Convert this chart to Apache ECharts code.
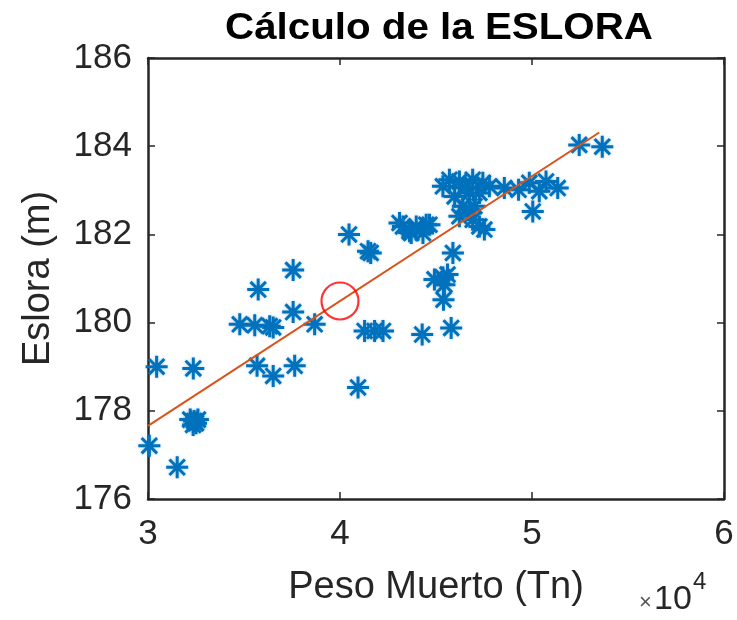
<!DOCTYPE html>
<html>
<head>
<meta charset="utf-8">
<script src="https://cdn.jsdelivr.net/npm/echarts@6/dist/echarts.min.js"></script>
<style>
html,body{margin:0;padding:0;background:#fff;}
#chart{width:737px;height:620px;}
</style>
</head>
<body>
<div id="chart"></div>
<script>
// Peso Muerto (Tn) and Eslora (m)
const pesoMuerto = [
  37560, 35740, 37560, 34780, 35560, 36340, 36520, 38680,
  30450, 32360, 35680, 36520, 37640,
  32200, 32500, 32350, 32600, 32400,
  30070, 31520,
  40470, 41460, 41600,
  43100, 43970, 44320, 43710, 44490, 43280, 43620, 44660,
  45880, 45360, 44920, 45600, 45440, 45390,
  41280, 42240, 41800, 44280, 45790, 40940,
  45360, 46220, 46910, 47440, 45970, 46740, 47260, 46400, 47000, 46220, 46910, 47260, 47780, 46740, 47520, 45700, 46540,
  48560, 49860, 50380, 51340, 50730, 50040, 49300,
  52460, 53660
];
const eslora = [
  181.19, 180.75, 180.24, 179.96, 179.94, 179.92, 179.89, 179.96,
  179.00, 178.96, 179.02, 178.79, 179.02,
  177.80, 177.72, 177.68, 177.80, 177.77,
  177.21, 176.72,
  182.00, 181.62, 181.58,
  182.26, 182.18, 182.03, 182.03, 182.22, 182.18, 182.07, 182.22,
  181.58, 181.02, 180.98, 181.09, 180.86, 180.52,
  179.81, 179.81, 179.81, 179.73, 179.88, 178.53,
  183.09, 183.20, 183.24, 183.17, 182.86, 182.94, 182.94, 182.64, 182.64, 182.41, 182.33, 182.18, 183.09, 182.56, 182.11, 183.24, 183.06,
  183.05, 183.17, 182.98, 183.05, 183.20, 182.52, 183.01,
  184.03, 183.99
];
// fitted line end points
const ajusteX = [30000, 53500];
const ajusteY = [177.66, 184.31];
// evaluated point (red circle)
const puntoX = [40000];
const puntoY = [180.49];
// ticks
const xTicks = [30000, 40000, 50000, 60000];
const yTicks = [176, 178, 180, 182, 184, 186];

const zip = (a, b) => a.map((v, i) => [v, b[i]]);
const FONT = '"Liberation Sans", Arial, Helvetica, sans-serif';
const AX = '#262626';

const chart = echarts.init(document.getElementById('chart'), null, {renderer: 'canvas'});
const star = 'path://M0,-10L0,10M-10,0L10,0M-7,-7L7,7M-7,7L7,-7';

const commonAxisLine = {show: true, onZero: false, lineStyle: {color: AX, width: 2.5}};
const commonTick = {show: true, inside: true, length: 7, lineStyle: {color: AX, width: 1.5}};

chart.setOption({
  animation: false,
  backgroundColor: '#fff',
  grid: {left: 148, right: 13, top: 58, bottom: 121, containLabel: false},
  xAxis: [{
    type: 'value', min: xTicks[0], max: xTicks[xTicks.length - 1], interval: 10000,
    position: 'bottom',
    axisLine: commonAxisLine, axisTick: commonTick, splitLine: {show: false},
    axisLabel: {formatter: v => String(v / 10000), fontSize: 35, color: AX, margin: 18, fontFamily: FONT},
    name: 'Peso Muerto (Tn)', nameLocation: 'middle', nameGap: 70,
    nameTextStyle: {fontSize: 38, color: AX, fontFamily: FONT}
  }, {
    type: 'value', min: xTicks[0], max: xTicks[xTicks.length - 1], interval: 10000,
    position: 'top',
    axisLine: commonAxisLine, axisTick: commonTick, splitLine: {show: false},
    axisLabel: {show: false}
  }],
  yAxis: [{
    type: 'value', min: yTicks[0], max: yTicks[yTicks.length - 1], interval: 2,
    position: 'left',
    axisLine: commonAxisLine, axisTick: commonTick, splitLine: {show: false},
    axisLabel: {fontSize: 35, color: AX, margin: 16, fontFamily: FONT},
    name: 'Eslora (m)', nameLocation: 'middle', nameGap: 90,
    nameTextStyle: {fontSize: 38, color: AX, fontFamily: FONT}
  }, {
    type: 'value', min: yTicks[0], max: yTicks[yTicks.length - 1], interval: 2,
    position: 'right',
    axisLine: commonAxisLine, axisTick: commonTick, splitLine: {show: false},
    axisLabel: {show: false}
  }],
  graphic: [
    {type: 'text', x: 439, y: 29, scaleX: 1.12, style: {text: 'Cálculo de la ESLORA', font: 'bold 36px ' + FONT, fill: '#000', align: 'center', verticalAlign: 'middle'}},
    {type: 'text', x: 639, y: 603, style: {text: '×', font: '22px ' + FONT, fill: '#555', align: 'left', verticalAlign: 'middle'}},
    {type: 'text', x: 654, y: 600, style: {text: '10', font: '34px ' + FONT, fill: AX, align: 'left', verticalAlign: 'middle'}},
    {type: 'text', x: 693, y: 582, style: {text: '4', font: '24px ' + FONT, fill: AX, align: 'left', verticalAlign: 'middle'}}
  ],
  series: [{
    type: 'scatter', xAxisIndex: 0, yAxisIndex: 0,
    data: zip(pesoMuerto, eslora),
    symbol: star, symbolSize: 22,
    itemStyle: {color: '#0072BD', borderColor: '#0072BD', borderWidth: 3, opacity: 1,
      shadowBlur: 3, shadowColor: 'rgba(0,114,189,0.35)'},
    z: 2
  }, {
    type: 'line', xAxisIndex: 0, yAxisIndex: 0,
    data: zip(ajusteX, ajusteY),
    showSymbol: false, symbol: 'none',
    lineStyle: {color: '#D95319', width: 2},
    z: 3
  }, {
    type: 'scatter', xAxisIndex: 0, yAxisIndex: 0,
    data: zip(puntoX, puntoY),
    symbol: 'circle', symbolSize: 37,
    itemStyle: {color: 'rgba(0,0,0,0)', borderColor: '#FF0000', borderWidth: 2.2},
    z: 4
  }]
});
</script>
</body>
</html>
